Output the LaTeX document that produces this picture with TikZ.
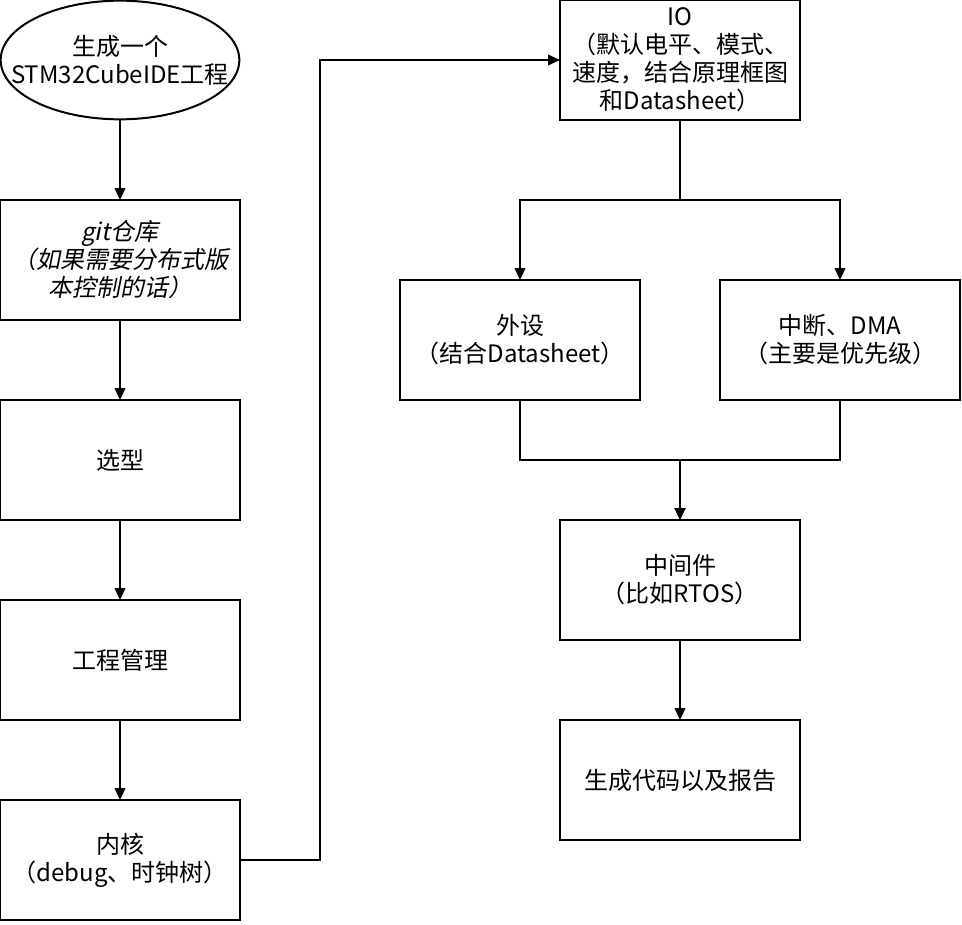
\documentclass[tikz,border=0pt]{standalone}
\usepackage{fontspec}
\setmainfont{Noto Sans CJK SC}
\newfontfamily\slantfont[FakeSlant=0.2]{Noto Sans CJK SC}
\usepackage{tikz}
\usetikzlibrary{arrows.meta,positioning}

\tikzset{
    textbox/.style={line width=1.5pt, minimum width=180pt, minimum height=90pt, outer sep=0pt,
                    inner sep=0pt, align=center, font=\fontsize{18pt}{21pt}\selectfont},
    stepbox/.style={textbox, draw},
    arr/.style={line width=1.5pt, -{Triangle[length=9pt,width=8pt]}}
}

\begin{document}
\begin{tikzpicture}[node distance=60pt]
    \useasboundingbox (0,0) rectangle (721.5pt,-693pt);
    % left column
    \node[textbox] (start) at (90pt,-45pt) {生成一个\\STM32CubeIDE工程};
    \draw[line width=1.5pt] (start.center) ellipse [x radius=89.5pt, y radius=44.5pt];
    \node[stepbox, below=of start] (git) {{\slantfont git仓库}\\{\slantfont （如果需要分布式版}\\{\slantfont 本控制的话）}};
    \node[stepbox, below=of git] (xuanxing) {选型};
    \node[stepbox, below=of xuanxing] (gongcheng) {工程管理};
    \node[stepbox, below=of gongcheng] (neihe) {内核\\（debug、时钟树）};
    % right column
    \node[stepbox] (io) at (510pt,-45pt) {IO\\（默认电平、模式、\\速度，结合原理框图\\和Datasheet）};
    \node[stepbox, below=120pt of io, xshift=-120pt] (waishe) {外设\\（结合Datasheet）};
    \node[stepbox, below=120pt of io, xshift=120pt] (zhongduan) {中断、DMA\\（主要是优先级）};
    \node[stepbox, below=90pt of waishe, xshift=120pt] (middle) {中间件\\（比如RTOS）};
    \node[stepbox, below=of middle] (gen) {生成代码以及报告};
    % connectors
    \draw[arr] (start) -- (git);
    \draw[arr] (git) -- (xuanxing);
    \draw[arr] (xuanxing) -- (gongcheng);
    \draw[arr] (gongcheng) -- (neihe);
    \draw[arr] (neihe.east) -- ++(60pt,0) |- (io.west);
    \draw[arr] (io.south) -- ++(0,-60pt) -| (waishe.north);
    \draw[arr] (io.south) -- ++(0,-60pt) -| (zhongduan.north);
    \draw[arr] (waishe.south) -- ++(0,-45pt) -| (middle.north);
    \draw[arr] (zhongduan.south) -- ++(0,-45pt) -| (middle.north);
    \draw[arr] (middle) -- (gen);
\end{tikzpicture}
\end{document}
